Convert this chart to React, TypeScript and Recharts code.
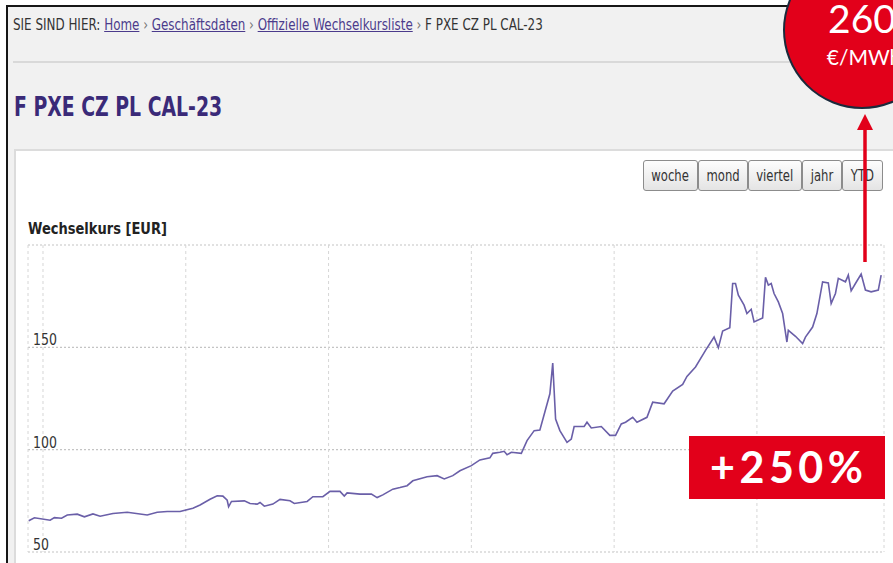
import React, { useLayoutEffect, useRef, useState } from 'react';
import { LineChart, Line, XAxis, YAxis, CartesianGrid } from 'recharts';

// Handelstag (Index ab erstem Raster) und Kurs in EUR
const tage = [
  -10, -6, 5, 8, 13, 17, 24, 29, 35, 40,
  49, 59, 73, 80, 87, 96, 105, 110, 117, 122,
  126, 129, 130, 132, 141, 145, 150, 152, 155, 161,
  166, 173, 176, 185, 189, 196, 201, 208, 211, 213,
  222, 230, 234, 238, 245, 250, 255, 259, 269, 276,
  281, 287, 292, 300, 306, 313, 315, 320, 323, 325,
  328, 335, 339, 344, 348, 355, 357, 359, 362, 367,
  370, 372, 379, 381, 384, 391, 397, 401, 405, 408,
  413, 416, 423, 427, 435, 441, 448, 451, 457, 464,
  470, 473, 476, 481, 483, 485, 487, 491, 493, 496,
  498, 504, 506, 508, 510, 512, 515, 518, 521, 522,
  527, 532, 534, 539, 542, 546, 550, 552, 555, 557,
  562, 564, 566, 569, 573, 576, 580, 585, 587,
];

const kurs = [
  65.3, 66.7, 65.5, 66.8, 66.5, 68.1, 68.5, 67.2, 68.6, 67.5,
  68.8, 69.4, 68.1, 69.4, 69.8, 69.8, 71.4, 73.0, 75.8, 77.5,
  77.3, 75.3, 72.1, 74.7, 75.0, 73.7, 73.4, 74.2, 72.4, 73.4,
  75.7, 75.0, 73.7, 74.7, 77.0, 77.0, 79.6, 79.6, 77.3, 78.9,
  78.3, 78.3, 76.6, 77.9, 80.7, 81.5, 82.4, 84.8, 86.8, 87.3,
  85.7, 87.3, 89.7, 92.2, 95.0, 96.0, 98.2, 98.7, 99.2, 97.5,
  98.7, 98.2, 104.4, 109.3, 109.6, 127.3, 142.3, 115.0, 109.3, 103.6,
  105.2, 111.3, 111.3, 113.4, 110.6, 111.3, 107.0, 107.0, 112.6, 113.4,
  115.8, 113.4, 115.8, 123.2, 122.4, 128.6, 131.9, 135.8, 140.4, 148.5,
  155.0, 149.8, 158.0, 159.6, 181.2, 181.2, 175.5, 170.6, 166.5, 168.6,
  162.4, 164.4, 184.2, 180.4, 181.2, 176.3, 172.2, 166.5, 152.6, 158.3,
  155.4, 151.8, 155.0, 159.9, 166.5, 182.0, 181.5, 171.4, 176.3, 183.7,
  182.0, 185.3, 177.6, 181.2, 185.8, 178.0, 177.1, 178.0, 185.3,
];

const yTicks = [50, 100, 150, 200];
const xTicks = [0, 100, 200, 300, 400, 500];
const zeitraum = ['woche', 'mond', 'viertel', 'jahr', 'YTD'];
const pfad = ['Home', 'Geschäftsdaten', 'Offizielle Wechselkursliste'];

const data = tage.map((t, i) => ({ tag: t, kurs: kurs[i] }));

const RED = '#e2001a';
const FONT = '"DejaVu Sans", Verdana, sans-serif';

// squeezes a text span to a target width (the screenshot is horizontally compressed)
const Fit = ({ w, style, children }: any) => {
  const ref = useRef<HTMLSpanElement>(null);
  const [k, setK] = useState(1);
  useLayoutEffect(() => {
    if (ref.current) setK(w / ref.current.offsetWidth);
  }, [w]);
  return (
    <span
      ref={ref}
      style={{
        display: 'inline-block',
        whiteSpace: 'nowrap',
        transform: `scaleX(${k})`,
        transformOrigin: '0 0',
        ...style,
      }}
    >
      {children}
    </span>
  );
};

// labels sit inside the plot, just above their grid line
const renderYTick = ({ x, y, payload }: any) => {
  if (payload.value >= 200) return <g />;
  return (
    <text
      transform={`translate(${x + 5},${y - 2}) scale(0.76,1)`}
      fontFamily={FONT}
      fontSize={16.5}
      fill="#333"
    >
      {payload.value}
    </text>
  );
};

const btnLeft = [643, 698, 748, 802, 842];
const btnWidth = [55, 50, 54, 40, 41];

export default function App() {
  return (
    <div
      style={{
        position: 'fixed',
        left: 0,
        top: 0,
        width: 893,
        height: 563,
        overflow: 'hidden',
        background: '#fff',
        fontFamily: FONT,
      }}
    >
      {/* screenshot frame */}
      <div
        style={{
          position: 'absolute',
          left: 6,
          top: 5,
          right: 0,
          bottom: 0,
          background: '#f1f1f1',
          borderLeft: '2px solid #161616',
          borderTop: '2px solid #161616',
        }}
      />

      {/* breadcrumb */}
      <div style={{ position: 'absolute', left: 13, top: 16.5, fontSize: 16, lineHeight: '16px', color: '#333' }}>
        <Fit w={530}>
          SIE SIND HIER:{' '}
          {pfad.map((p) => (
            <span key={p}>
              <span style={{ color: '#4b3b8c', textDecoration: 'underline' }}>{p}</span>
              <span style={{ color: '#777' }}> › </span>
            </span>
          ))}
          F PXE CZ PL CAL-23
        </Fit>
      </div>

      <div style={{ position: 'absolute', left: 13, top: 61, right: 0, height: 2, background: '#d9d9d9' }} />

      {/* title */}
      <div
        style={{
          position: 'absolute',
          left: 14,
          top: 93,
          fontSize: 27,
          lineHeight: '27px',
          fontWeight: 'bold',
          color: '#3a2a78',
        }}
      >
        <Fit w={208}>F PXE CZ PL CAL-23</Fit>
      </div>

      {/* chart panel */}
      <div
        style={{
          position: 'absolute',
          left: 14,
          top: 149,
          right: 0,
          bottom: 0,
          background: '#fff',
          borderLeft: '2px solid #dcdcdc',
          borderTop: '2px solid #dcdcdc',
        }}
      />

      {zeitraum.map((z, i) => (
        <div
          key={z}
          style={{
            position: 'absolute',
            left: btnLeft[i],
            top: 160,
            width: btnWidth[i],
            height: 31,
            boxSizing: 'border-box',
            border: '1px solid #8c8c8c',
            borderRadius: 3,
            background: 'linear-gradient(#fdfdfd, #e4e4e4)',
            display: 'flex',
            alignItems: 'center',
            justifyContent: 'center',
            fontSize: 15.5,
            color: '#333',
          }}
        >
          <span style={{ display: 'inline-block', transform: 'scaleX(0.75)' }}>{z}</span>
        </div>
      ))}

      <div
        style={{
          position: 'absolute',
          left: 28,
          top: 222,
          fontSize: 15,
          lineHeight: '15px',
          fontWeight: 'bold',
          color: '#222',
        }}
      >
        <Fit w={139}>Wechselkurs [EUR]</Fit>
      </div>

      <div style={{ position: 'absolute', left: 0, top: 0 }}>
        <LineChart width={893} height={563} data={data} margin={{ top: 245, right: 9, bottom: 11, left: 0 }}>
          <CartesianGrid horizontal vertical={false} stroke="#c4c4c4" strokeDasharray="2 2" strokeWidth={1.2} />
          <CartesianGrid horizontal={false} vertical stroke="#d6d6d6" strokeDasharray="3 3" />
          <XAxis dataKey="tag" type="number" domain={[-10.5, 589]} ticks={xTicks} hide />
          <YAxis
            type="number"
            domain={[50, 200]}
            ticks={yTicks}
            width={28}
            axisLine={false}
            tickLine={false}
            tickSize={0}
            tickMargin={0}
            interval={0}
            tick={renderYTick}
          />
          <Line
            type="linear"
            dataKey="kurs"
            stroke="#6a5fa8"
            strokeWidth={1.6}
            dot={false}
            isAnimationActive={false}
          />
        </LineChart>
      </div>

      {/* annotation overlay */}
      <svg width={893} height={563} style={{ position: 'absolute', left: 0, top: 0, pointerEvents: 'none' }}>
        <circle cx={862} cy={30} r={78} fill={RED} stroke="#1b2a3c" strokeWidth={2} />
        <text x={862} y={33} textAnchor="middle" fontFamily="Lato, sans-serif" fontSize={39} fill="#fff">
          260
        </text>
        <text x={864} y={65} textAnchor="middle" fontFamily="Lato, sans-serif" fontSize={21} fill="#fff">
          €/MWh
        </text>
        <line x1={865} y1={262} x2={865} y2={126} stroke={RED} strokeWidth={3.5} />
        <polygon points="865,114 857,130 873,130" fill={RED} />
        <rect x={689} y={436} width={196} height={63} fill={RED} />
        <text
          x={710}
          y={483}
          fontFamily="Lato, sans-serif"
          fontWeight="bold"
          fontSize={43}
          fill="#fff"
          textLength={153}
          lengthAdjust="spacing"
        >
          +250%
        </text>
      </svg>
    </div>
  );
}
